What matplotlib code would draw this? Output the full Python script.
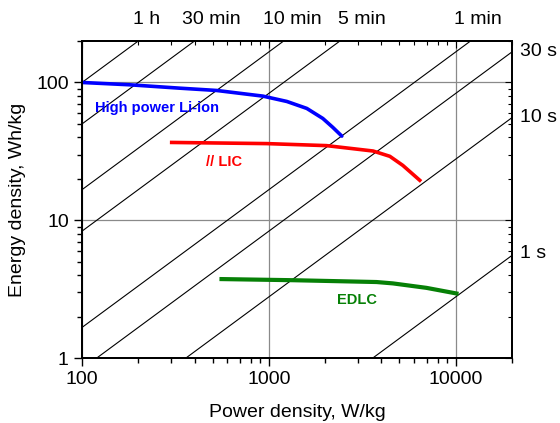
import numpy as np
import matplotlib
matplotlib.use('Agg')
import matplotlib.pyplot as plt

plt.rcParams['font.family'] = ['Liberation Sans', 'DejaVu Sans']

# curves (power W/kg, energy Wh/kg)
liion_p = [100, 180, 334, 525, 929, 1248, 1596, 1944, 2199, 2457]
liion_e = [100, 96.2, 90.9, 87.5, 79.6, 72.8, 64.8, 54.8, 47.2, 40.8]

lic_p = [302, 972, 2035, 3612, 4440, 5210, 6417]
lic_e = [36.7, 36.0, 34.8, 31.8, 29.1, 25.0, 19.5]

edlc_p = [558, 1349, 3767, 4605, 6966, 10090]
edlc_e = [3.74, 3.67, 3.56, 3.48, 3.23, 2.94]

# constant time lines, in hours
times_h = [1, 0.5, 1/6, 1/12, 1/60, 30/3600, 10/3600, 1/3600]
top_labels = ['1 h', '30 min', '10 min', '5 min', '1 min']
top_xpix = [147, 211, 292, 362, 478]
right_labels = ['30 s', '10 s', '1 s']
right_ypix = [52, 118, 253]

W, H = 560, 423
fig = plt.figure(figsize=(W/100, H/100), dpi=100)
ax = fig.add_axes([82/W, 1-358/H, (512-82)/W, (358-41)/H])
ax.set_xscale('log')
ax.set_yscale('log')
ax.set_xlim(100, 20000)
ax.set_ylim(1, 200)

ax.grid(True, which='major', color='#8a8a8a', lw=0.9)

pp = np.logspace(1, 6, 200)
for t in times_h:
    ax.plot(pp, pp*t, color='black', lw=0.8)

ax.plot(liion_p, liion_e, color='#0000ff', lw=2.6, solid_capstyle='round',
        solid_joinstyle='round')
ax.plot(lic_p, lic_e, color='#ff0000', lw=2.6, solid_joinstyle='round')
ax.plot(edlc_p, edlc_e, color='#068006', lw=3.0, solid_joinstyle='round')

fig.text(95/W, 1-108/H, 'High power Li-ion', color='#0000ff', fontsize=10.5,
         fontweight='bold', ha='left', va='center')
fig.text(224/W, 1-162/H, '// LIC', color='#ff0000', fontsize=10.5,
         fontweight='bold', ha='center', va='center')
fig.text(357/W, 1-300/H, 'EDLC', color='#068006', fontsize=10.5,
         fontweight='bold', ha='center', va='center')

for lab, xp in zip(top_labels, top_xpix):
    fig.text(xp/W, 1-20/H, lab, fontsize=14, ha='center', va='center')
for lab, yp in zip(right_labels, right_ypix):
    fig.text(520/W, 1-yp/H, lab, fontsize=14, ha='left', va='center')

ax.set_xticks([100, 1000, 10000])
ax.set_xticklabels(['100', '1000', '10000'])
ax.set_yticks([1, 10, 100])
ax.set_yticklabels(['1', '10', '100'])
ax.tick_params(which='both', direction='out', labelsize=14, width=1)
ax.tick_params(which='major', length=6)
ax.tick_params(which='minor', length=3.5)
ax.xaxis.set_minor_formatter(matplotlib.ticker.NullFormatter())
ax.yaxis.set_minor_formatter(matplotlib.ticker.NullFormatter())

# inward ticks on top and right
ax2 = ax.twinx()
ax2.set_yscale('log')
ax2.set_ylim(1, 200)
ax2.tick_params(which='both', direction='in', labelright=False, width=0.8)
ax2.tick_params(which='major', length=5)
ax2.tick_params(which='minor', length=3)
ax3 = ax.twiny()
ax3.set_xscale('log')
ax3.set_xlim(100, 20000)
ax3.tick_params(which='both', direction='in', labeltop=False, width=0.8)
ax3.tick_params(which='major', length=5)
ax3.tick_params(which='minor', length=3)

for a in (ax, ax2, ax3):
    for s in a.spines.values():
        s.set_linewidth(1.2)

ax.set_xlabel('Power density, W/kg', fontsize=14)
ax.set_ylabel('Energy density, Wh/kg', fontsize=14)
ax.xaxis.label.set_va('center')
ax.yaxis.label.set_va('center')
ax.xaxis.set_label_coords(0.5, (358-412)/317)
ax.yaxis.set_label_coords((18-82)/430, (358-200)/317)

fig.savefig('out.png', dpi=100)
